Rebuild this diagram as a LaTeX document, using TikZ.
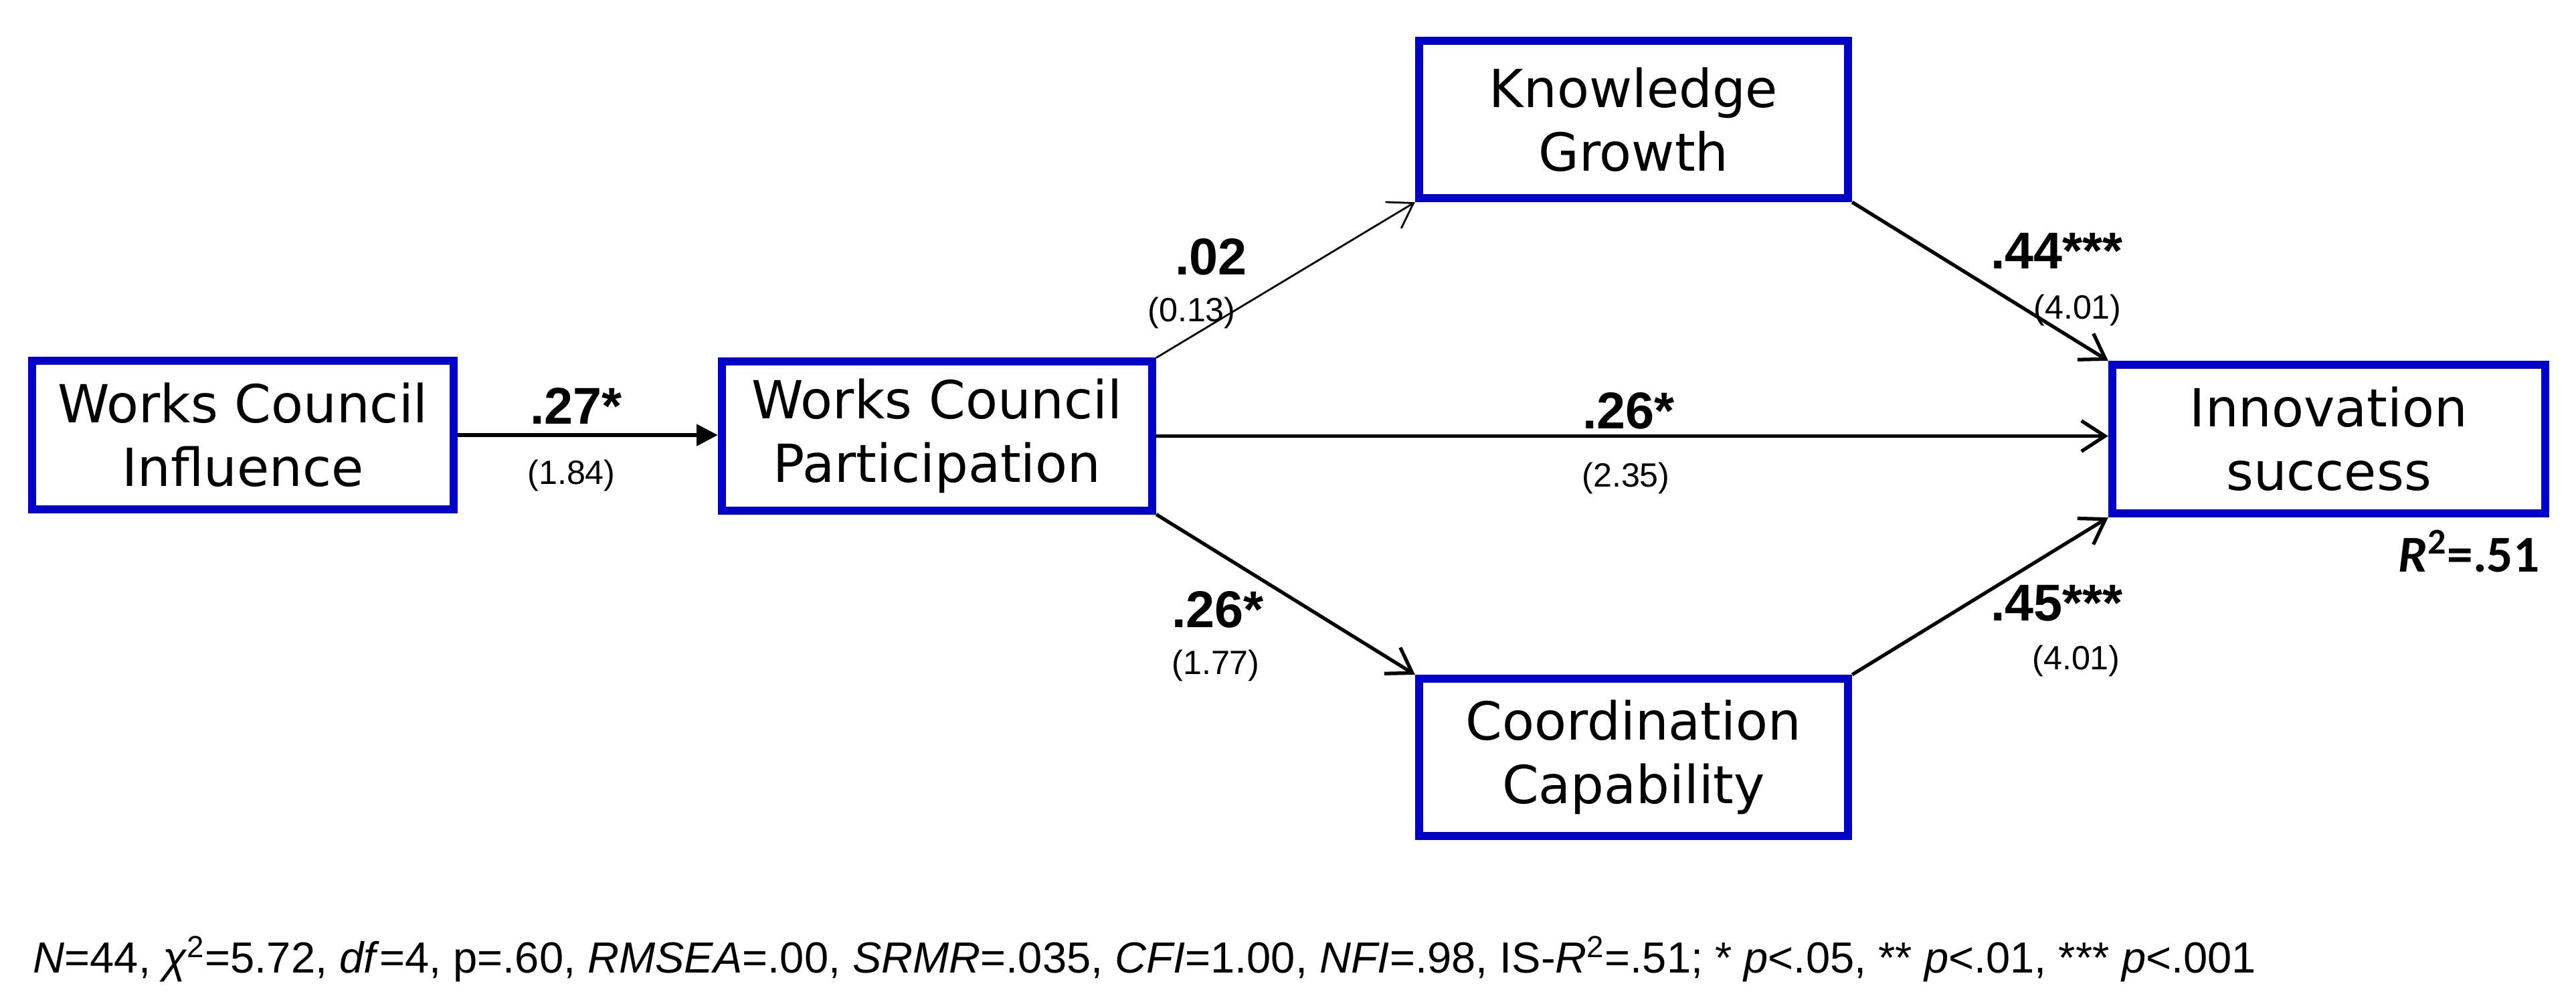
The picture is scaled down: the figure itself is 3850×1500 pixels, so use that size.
\documentclass[tikz,border=0pt]{standalone}
\usepackage{fontspec}
\setmainfont{Liberation Sans}
\newfontfamily\boxfont{DejaVu Sans}
\newfontfamily\rfont{Carlito}
\usetikzlibrary{arrows.meta}
\definecolor{boxblue}{RGB}{0,0,200}
\begin{document}
\begin{tikzpicture}[x=0.01cm,y=-0.01cm,
  var/.style={draw=boxblue, line width=0.12cm, fill=white, inner sep=0pt, align=center,
    font=\boxfont\fontsize{22.3}{27}\selectfont, text=black},
  midrow/.style={minimum height=2.22cm},
  siderow/.style={minimum height=2.35cm},
  coef/.style={anchor=base, inner sep=0pt, font=\bfseries\fontsize{22}{24}\selectfont},
  tval/.style={anchor=base, inner sep=0pt, font=\fontsize{14.3}{16}\selectfont},
  arr/.style={line width=1.5pt, -{Straight Barb[length=10pt,width=13pt,line width=1.5pt]}},
  thinarr/.style={line width=0.8pt, -{Straight Barb[length=10pt,width=13pt,line width=0.8pt]}},
  firstarr/.style={line width=1.5pt, -{Triangle[length=9pt,width=9pt]}}
]
\useasboundingbox (0,0) rectangle (3850,1500);
\fill[white] (0,0) rectangle (3850,1500);

\node[var, midrow, minimum width=6.30cm] (wci) at (363,650) {Works Council\\Influence};
\node[var, midrow, minimum width=6.43cm] (wcp) at (1400.5,651.5) {Works Council\\Participation};
\node[var, siderow, minimum width=6.41cm] (kg) at (2441.5,178.5) {Knowledge\\Growth};
\node[var, siderow, minimum width=6.41cm] (cc) at (2441.5,1131.5) {Coordination\\Capability};
\node[var, midrow, minimum width=6.47cm] (is) at (3480.5,656) {Innovation\\success};

\draw[firstarr] (wci.east) -- (wci.east -| wcp.west);
\draw[thinarr] (wcp.north east) -- (kg.south west);
\draw[arr] (wcp.south east) -- (cc.north west);
\draw[arr] (wcp.east) -- (wcp.east -| is.west);
\draw[arr] (kg.south east) -- (is.north west);
\draw[arr] (cc.north east) -- (is.south west);

\node[coef] (c1) at (861,633) {.27*};
\node[tval] (t1) at (854,723) {(1.84)};
\node[coef] (c2) at (1810,410) {.02};
\node[tval] (t2) at (1781,480) {(0.13)};
\node[coef] (c3) at (1820,937) {.26*};
\node[tval] (t3) at (1817,1007) {(1.77)};
\node[coef] (c4) at (2434,640) {.26*};
\node[tval] (t4) at (2430,727) {(2.35)};
\node[coef] (c5) at (3074,401) {.44***};
\node[tval] (t5) at (3105,476) {(4.01)};
\node[coef] (c6) at (3074,927) {.45***};
\node[tval] (t6) at (3103,1000) {(4.01)};
\node[anchor=base, inner sep=0pt, font=\rfont\bfseries\fontsize{22}{24}\selectfont] (r2) at (3690,854) {\textit{R}\textsuperscript{2}=.51};

\node[anchor=base west, inner sep=0pt, font=\fontsize{18.5}{20}\selectfont] (foot) at (49,1453)
  {\textit{N}=44, \textit{χ}\textsuperscript{2}=5.72, \textit{df}=4, p=.60, \textit{RMSEA}=.00, \textit{SRMR}=.035, \textit{CFI}=1.00, \textit{NFI}=.98, IS-\textit{R}\textsuperscript{2}=.51; * \textit{p}<.05, ** \textit{p}<.01, *** \textit{p}<.001};
\end{tikzpicture}
\end{document}
